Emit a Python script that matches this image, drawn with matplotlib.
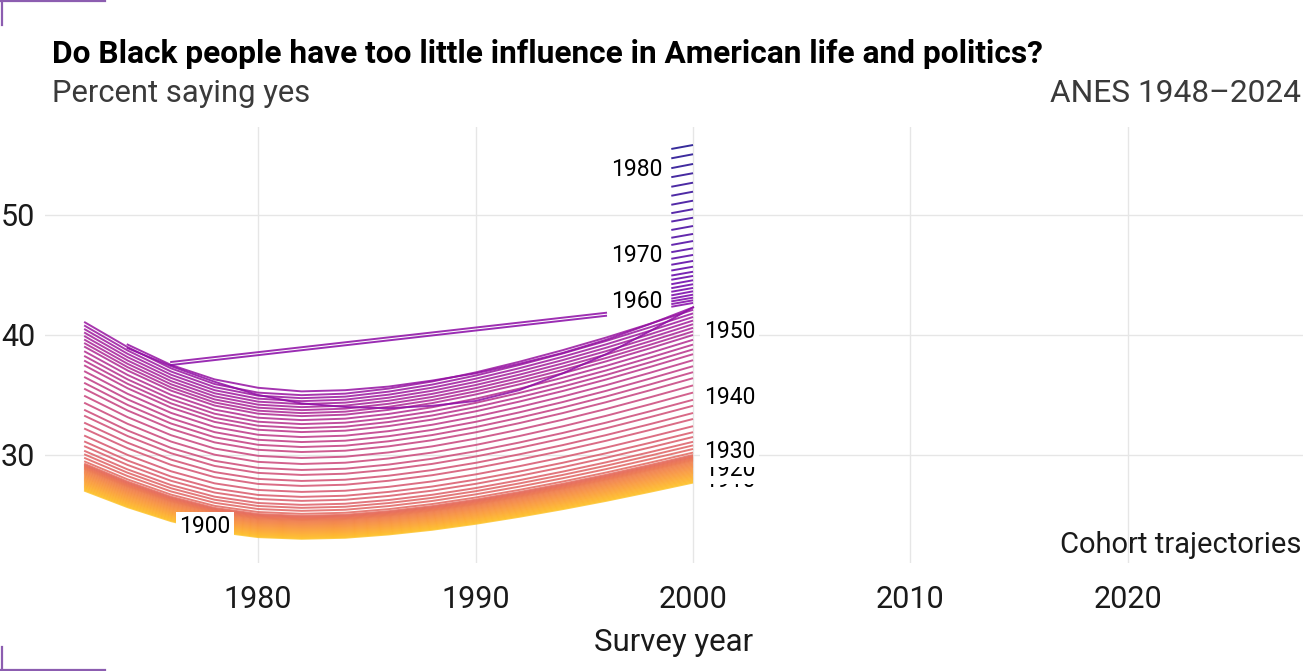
import matplotlib
matplotlib.use("Agg")
import matplotlib.pyplot as plt
from matplotlib.lines import Line2D

plt.rcParams['font.family'] = ['Roboto', 'DejaVu Sans']

# Survey years and the shared shape of the trajectories (relative to the 2000 value)
survey_years = [1972, 1974, 1976, 1978, 1980, 1982, 1984, 1986,
                1988, 1990, 1992, 1994, 1996, 1998, 2000]
year_factor = [0.976, 0.926, 0.884, 0.853, 0.836, 0.831, 0.834, 0.844,
               0.858, 0.876, 0.897, 0.920, 0.945, 0.972, 1.000]

# Cohorts 1900-1953: level reached in 2000
family_cohorts = list(range(1900, 1954))
family_level = [27.70, 27.80, 27.90, 28.00, 28.10, 28.20, 28.30, 28.40, 28.50, 28.60,
                28.70, 28.80, 28.90, 29.00, 29.10, 29.20, 29.30, 29.40, 29.50, 29.58,
                29.66, 29.74, 29.82, 29.90, 30.00,
                30.2, 30.5, 30.8, 31.1, 31.5, 31.9, 32.4, 33.0, 33.5, 34.1,
                34.6, 35.2, 35.8, 36.4, 36.9, 37.4, 37.9, 38.4, 38.8, 39.2,
                39.6, 40.0, 40.3, 40.6, 40.9, 41.2, 41.5, 41.8, 42.1]

# Cohorts first seen in 1974
late_years = survey_years[1:]
cohort_1954 = [39.2, 37.5, 36.3, 35.6, 35.3, 35.4, 35.7, 36.2,
               36.8, 37.6, 38.5, 39.6, 40.9, 42.3]
cohort_1955 = [38.9, 37.4, 36.1, 35.0, 34.3, 34.0, 33.9, 34.1,
               34.5, 35.4, 36.8, 38.4, 40.3, 42.3]

# Cohorts with only two points
straight_years = [1976, 1996]
cohort_1956 = [37.75, 41.85]
cohort_1957 = [37.5, 41.6]

# Youngest cohorts, only seen at the end
seg_cohorts = list(range(1958, 1984))
seg_years = [1999, 2000]
seg_start = [42.35, 42.57, 42.80, 43.03, 43.30, 43.60, 43.90, 44.23, 44.60, 44.95,
             45.37, 45.85, 46.35, 46.90, 47.50, 48.10, 48.75, 49.45, 50.15, 50.85,
             51.60, 52.35, 53.15, 53.90, 54.72, 55.50]
seg_end = [42.67, 42.89, 43.11, 43.36, 43.64, 43.92, 44.23, 44.56, 44.92, 45.27,
           45.69, 46.17, 46.67, 47.22, 47.83, 48.42, 49.08, 49.77, 50.48, 51.19,
           51.94, 52.69, 53.48, 54.25, 55.06, 55.83]

# Cohort labels
label_text = ['1910', '1920', '1930', '1940', '1950', '1960', '1970', '1980', '1900']
label_x = [2000.5, 2000.5, 2000.5, 2000.5, 2000.5, 1998.6, 1998.6, 1998.6, 1977.56]
label_y = [27.9, 28.83, 30.25, 34.83, 40.25, 42.75, 46.6, 53.75, 24.0]
label_ha = ['left', 'left', 'left', 'left', 'left', 'right', 'right', 'right', 'center']

cmap = plt.get_cmap('plasma')


def cohort_color(c):
    t = (c - 1900) / (1983 - 1900)
    return cmap(0.87 - 0.86 * t)


fig = plt.figure(figsize=(13.03, 6.71), dpi=100)
ax = fig.add_axes([45 / 1303, 1 - 563 / 671, 1 - 45 / 1303, (563 - 127) / 671])

lw = 1.4
alpha = 0.85
for c, level in zip(family_cohorts, family_level):
    vals = [level * f for f in year_factor]
    ax.plot(survey_years, vals, color=cohort_color(c), lw=lw, alpha=alpha,
            solid_capstyle='butt')

ax.plot(late_years, cohort_1954, color=cohort_color(1954), lw=lw, alpha=alpha)
ax.plot(late_years, cohort_1955, color=cohort_color(1955), lw=lw, alpha=alpha)
ax.plot(straight_years, cohort_1956, color=cohort_color(1956), lw=lw, alpha=alpha)
ax.plot(straight_years, cohort_1957, color=cohort_color(1957), lw=lw, alpha=alpha)

for c, v0, v1 in zip(seg_cohorts, seg_start, seg_end):
    ax.plot(seg_years, [v0, v1], color=cohort_color(c), lw=lw, alpha=alpha,
            solid_capstyle='butt')

for i, (txt, x, y, ha) in enumerate(zip(label_text, label_x, label_y, label_ha)):
    ax.text(x, y, txt, ha=ha, va='center', fontsize=16.5, color='black',
            bbox=dict(facecolor='white', edgecolor='none', pad=2.5), zorder=5 + i)

ax.set_xlim(1970.2, 2028.05)
ax.set_ylim(21.0, 57.33)
ax.set_xticks([1980, 1990, 2000, 2010, 2020])
ax.set_yticks([30, 40, 50])
ax.grid(True, color='#E6E6E6', lw=1.0)
ax.set_axisbelow(True)
for s in ax.spines.values():
    s.set_visible(False)
ax.tick_params(length=0, labelsize=22, labelcolor='#1a1a1a')
ax.tick_params(axis='x', pad=16)
ax.tick_params(axis='y', pad=7)
ax.set_xlabel('Survey year', fontsize=22.5, color='#1a1a1a', labelpad=10)

ax.text(0.9985, 0.041, 'Cohort trajectories', transform=ax.transAxes,
        ha='right', va='center', fontsize=21, color='#1a1a1a')

fig.text(52 / 1303, 1 - 63 / 671,
         'Do Black people have too little influence in American life and politics?',
         fontsize=22.8, fontweight='bold', color='black', va='baseline', ha='left')
fig.text(52 / 1303, 1 - 102 / 671, 'Percent saying yes', fontsize=22.3,
         color='#3a3a3a', va='baseline', ha='left')
fig.text(1301 / 1303, 1 - 102 / 671, 'ANES 1948\u20132024', fontsize=22.8,
         color='#3a3a3a', va='baseline', ha='right')

# corner marks
mark = '#8C5DB0'
fig.add_artist(Line2D([0, 105 / 1303], [1 - 1 / 671, 1 - 1 / 671], transform=fig.transFigure, color=mark, lw=1.6))
fig.add_artist(Line2D([1.5 / 1303, 1.5 / 1303], [1, 1 - 25 / 671], transform=fig.transFigure, color=mark, lw=1.6))
fig.add_artist(Line2D([0, 105 / 1303], [1.5 / 671, 1.5 / 671], transform=fig.transFigure, color=mark, lw=1.6))
fig.add_artist(Line2D([1.5 / 1303, 1.5 / 1303], [0, 24 / 671], transform=fig.transFigure, color=mark, lw=1.6))

fig.savefig('out.png', dpi=100)
